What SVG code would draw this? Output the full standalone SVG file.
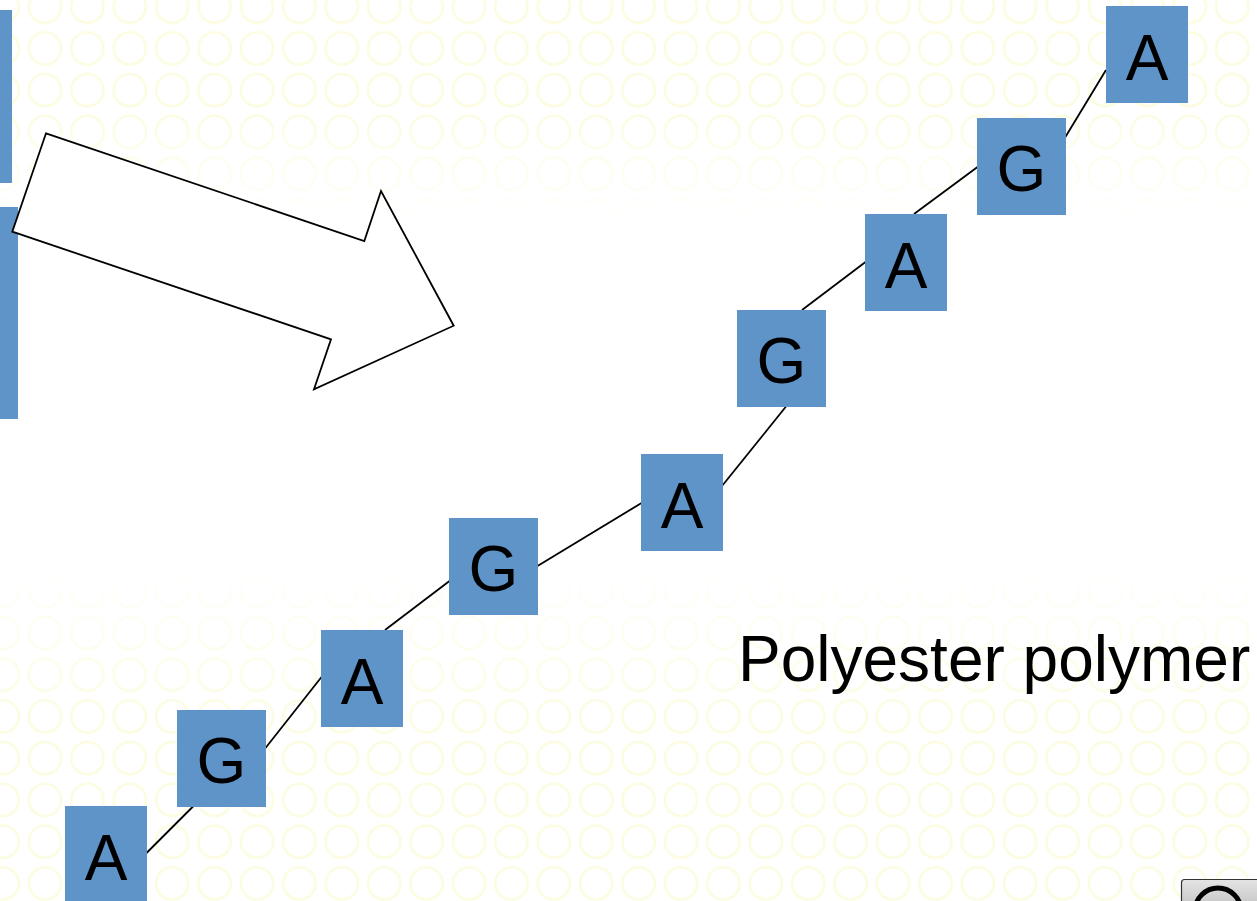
<svg xmlns="http://www.w3.org/2000/svg" width="1257" height="901" viewBox="0 0 1257 901">
  <defs>
    <!-- faint ring texture of the slide background -->
    <pattern id="rings" patternUnits="userSpaceOnUse" x="-18.6" y="-14.2" width="42.4" height="41.75">
      <circle cx="21.2" cy="20.875" r="16.2" fill="none" stroke="#fcfce0" stroke-width="2.6"/>
    </pattern>
    <linearGradient id="ringFade" gradientUnits="userSpaceOnUse" x1="0" y1="0" x2="0" y2="901">
      <stop offset="0" stop-color="#fff"/>
      <stop offset="0.12" stop-color="#fff"/>
      <stop offset="0.25" stop-color="#000"/>
      <stop offset="0.62" stop-color="#000"/>
      <stop offset="0.8" stop-color="#fff"/>
      <stop offset="1" stop-color="#fff"/>
    </linearGradient>
    <mask id="ringMask" maskUnits="userSpaceOnUse" x="0" y="0" width="1257" height="901">
      <rect width="1257" height="901" fill="url(#ringFade)"/>
    </mask>
    <linearGradient id="iconGrad" x1="0" y1="0" x2="0" y2="1">
      <stop offset="0" stop-color="#e4e4e4"/>
      <stop offset="1" stop-color="#b8b8b8"/>
    </linearGradient>
    <style>
      .box { fill: #5e94c8; }
      .lbl { font-family: "Liberation Sans", Arial, sans-serif; font-size: 64px; fill: #000; text-anchor: middle; }
      .link { stroke: #000; stroke-width: 1.8; fill: none; }
      .caption { font-family: "Liberation Sans", Arial, sans-serif; font-size: 64px; fill: #000; }
    </style>
  </defs>

  <!-- background -->
  <rect width="1257" height="901" fill="#fff"/>
  <rect width="1257" height="901" fill="url(#rings)" mask="url(#ringMask)"/>

  <!-- partial blocks at the left edge -->
  <rect x="0" y="10" width="12" height="173" class="box"/>
  <rect x="0" y="207" width="18" height="212" class="box"/>

  <!-- block arrow -->
  <polygon points="46,133.3 364.3,241 381,191 453.7,325.7 314,389.3 331,339.3 12.3,231.7" fill="#fff" stroke="#000" stroke-width="1.8" stroke-linejoin="miter"/>

  <!-- chain bonds -->
  <g id="connectors">
    <line class="link" x1="146" y1="853.5" x2="193.5" y2="806"/>
    <line class="link" x1="265.5" y1="748" x2="321.5" y2="677"/>
    <line class="link" x1="385" y1="630" x2="449.5" y2="581"/>
    <line class="link" x1="537.5" y1="566" x2="641.5" y2="503"/>
    <line class="link" x1="722" y1="486" x2="786" y2="406.5"/>
    <line class="link" x1="802" y1="310" x2="865.5" y2="262"/>
    <line class="link" x1="914" y1="214" x2="977.5" y2="167"/>
    <line class="link" x1="1057.5" y1="150" x2="1106" y2="70"/>
  </g>

  <!-- monomer units -->
  <g id="unit1"><rect class="box" x="65" y="806" width="82" height="97"/><text class="lbl" x="106" y="880">A</text></g>
  <g id="unit2"><rect class="box" x="177" y="710" width="89" height="97"/><text class="lbl" x="221.5" y="783">G</text></g>
  <g id="unit3"><rect class="box" x="321" y="630" width="82" height="97"/><text class="lbl" x="362" y="704">A</text></g>
  <g id="unit4"><rect class="box" x="449" y="518" width="89" height="97"/><text class="lbl" x="493.5" y="591">G</text></g>
  <g id="unit5"><rect class="box" x="641" y="454" width="82" height="97"/><text class="lbl" x="682" y="528">A</text></g>
  <g id="unit6"><rect class="box" x="737" y="310" width="89" height="97"/><text class="lbl" x="781.5" y="383">G</text></g>
  <g id="unit7"><rect class="box" x="865" y="214" width="82" height="97"/><text class="lbl" x="906" y="288">A</text></g>
  <g id="unit8"><rect class="box" x="977" y="118" width="89" height="97"/><text class="lbl" x="1021.5" y="191">G</text></g>
  <g id="unit9"><rect class="box" x="1106" y="6" width="82" height="97"/><text class="lbl" x="1147" y="80">A</text></g>

  <!-- caption -->
  <text class="caption" x="738" y="681">Polyester polymer</text>

  <!-- media control icon at bottom right -->
  <g id="icon">
    <rect x="1181.5" y="879.5" width="90" height="40" rx="3" fill="url(#iconGrad)" stroke="#333" stroke-width="1.2"/>
    <circle cx="1218" cy="911" r="23" fill="none" stroke="#000" stroke-width="5"/>
  </g>
</svg>
